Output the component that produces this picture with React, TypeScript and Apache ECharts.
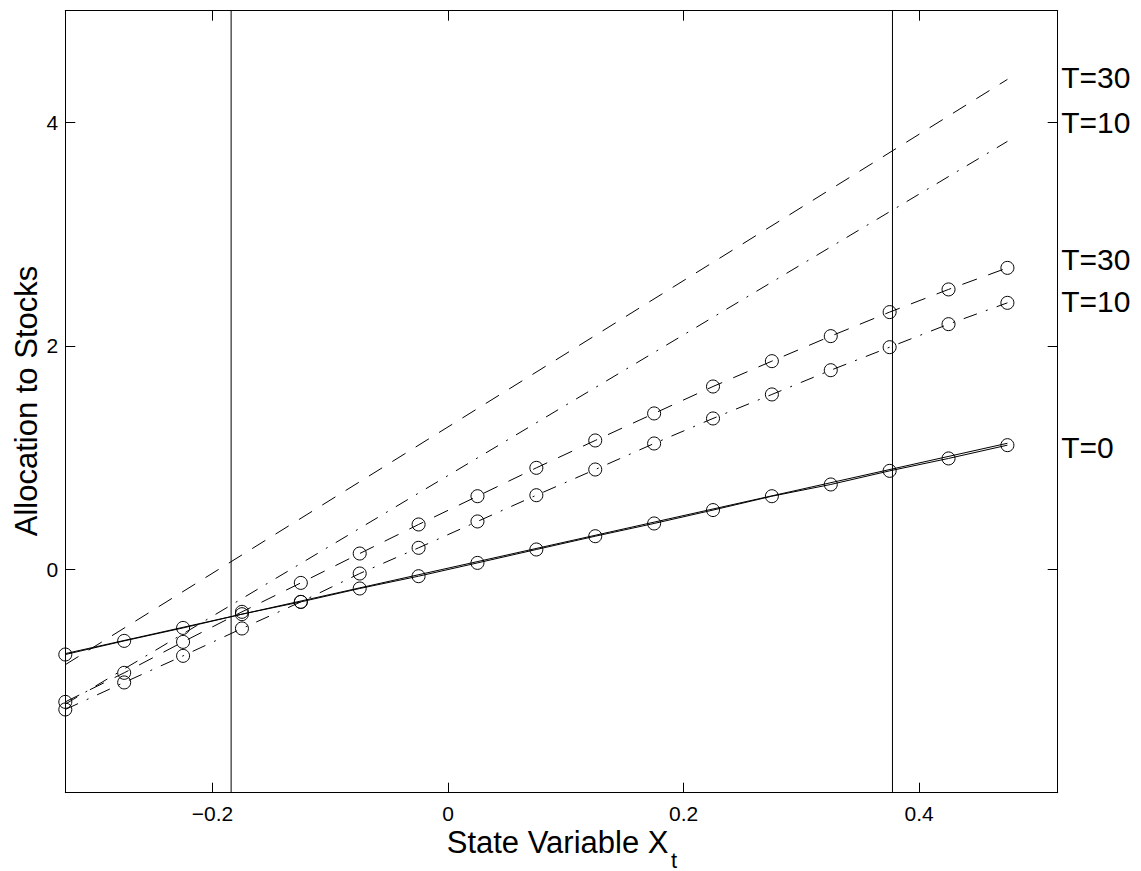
import React, { useEffect, useRef } from "react";
import * as echarts from "echarts";

// ---- data ----
const X_GRID = [
  -0.325, -0.275, -0.225, -0.175, -0.125, -0.075, -0.025, 0.025, 0.075, 0.125,
  0.175, 0.225, 0.275, 0.325, 0.375, 0.425, 0.475,
];
// simulated allocations (circles)
const T30_SIM = [
  -1.187, -0.927, -0.65, -0.381, -0.122, 0.141, 0.401, 0.654, 0.908, 1.153,
  1.395, 1.636, 1.863, 2.087, 2.302, 2.505, 2.698,
];
const T10_SIM = [
  -1.255, -1.013, -0.775, -0.53, -0.292, -0.038, 0.192, 0.428, 0.663, 0.893,
  1.126, 1.35, 1.565, 1.782, 1.988, 2.194, 2.385,
];
const T0_SIM = [
  -0.763, -0.641, -0.525, -0.402, -0.292, -0.172, -0.062, 0.057, 0.177, 0.296,
  0.41, 0.53, 0.654, 0.759, 0.881, 0.992, 1.111,
];
// analytic (straight) lines, endpoints
const LINE_X = [-0.325, 0.475];
const T30_LINE = [-0.854, 4.385];
const T10_LINE = [-1.207, 3.83];
const T0_LINE = [-0.755, 1.128];
// vertical reference lines
const V_LINES = [-0.1842, 0.3774];
// axes
const X_MIN = -0.325;
const X_MAX = 0.5177;
const Y_MIN = -2;
const Y_MAX = 5;
const X_TICKS = [-0.2, 0, 0.2, 0.4];
const Y_TICKS = [0, 2, 4];
// right-hand labels
const LABEL_TEXTS = ["T=30", "T=10", "T=30", "T=10", "T=0"];
const LABEL_YS = [4.401, 3.998, 2.776, 2.394, 1.089];

const FONT = "'Liberation Sans', Arial, Helvetica, sans-serif";

const fmt = (v: number) => {
  const r = Math.round(v * 1000) / 1000;
  return r < 0 ? "\u2212" + String(Math.abs(r)) : String(r);
};

const pairs = (xs: number[], ys: number[]) => xs.map((x, i) => [x, ys[i]]);

const DASHED = [15.5, 12];
const DASHDOT = [14, 9.5, 2, 9.5];

export default function App() {
  const ref = useRef<HTMLDivElement>(null);

  useEffect(() => {
    document.body.style.margin = "0";
    const chart = echarts.init(ref.current!, null, { renderer: "svg" });

    const axisLine = { show: true, onZero: false, lineStyle: { color: "#000", width: 1 } };

    const xAxisBase = (pos: "bottom" | "top", showLabel: boolean) => ({
      type: "value" as const,
      position: pos,
      min: X_MIN,
      max: X_MAX,
      axisLine,
      axisTick: {
        show: true,
        inside: true,
        length: 10,
        customValues: X_TICKS,
        lineStyle: { color: "#000", width: 1 },
      },
      axisLabel: {
        show: showLabel,
        customValues: X_TICKS,
        formatter: fmt,
        color: "#000",
        fontSize: 21,
        fontFamily: FONT,
        margin: 10,
      },
      splitLine: { show: false },
    });

    const yAxisBase = (pos: "left" | "right", showLabel: boolean) => ({
      type: "value" as const,
      position: pos,
      min: Y_MIN,
      max: Y_MAX,
      axisLine,
      axisTick: {
        show: true,
        inside: true,
        length: 10,
        customValues: Y_TICKS,
        lineStyle: { color: "#000", width: 1 },
      },
      axisLabel: {
        show: showLabel,
        customValues: Y_TICKS,
        formatter: fmt,
        color: "#000",
        fontSize: 21,
        fontFamily: FONT,
        margin: 7,
      },
      splitLine: { show: false },
    });

    const plainLine = (name: string, data: number[][], dash: any, width = 1) => ({
      name,
      type: "line" as const,
      data,
      symbol: "none",
      silent: true,
      lineStyle: { color: "#000", width, type: dash, cap: "butt" },
      z: 2,
    });

    const simLine = (name: string, ys: number[], dash: any) => ({
      name,
      type: "line" as const,
      data: pairs(X_GRID, ys),
      symbol: "circle",
      symbolSize: 13,
      silent: true,
      itemStyle: { color: "rgba(0,0,0,0)", borderColor: "#000", borderWidth: 1 },
      lineStyle: { color: "#000", width: 1, type: dash, cap: "butt" },
      z: 3,
    });

    chart.setOption({
      animation: false,
      backgroundColor: "#fff",
      grid: { left: 65.3, right: 83.3, top: 10.7, bottom: 78.3, containLabel: false },
      xAxis: [xAxisBase("bottom", true), xAxisBase("top", false)],
      yAxis: [yAxisBase("left", true), yAxisBase("right", false)],
      series: [
        plainLine("T=30 analytic", pairs(LINE_X, T30_LINE), DASHED),
        plainLine("T=10 analytic", pairs(LINE_X, T10_LINE), DASHDOT),
        plainLine("T=0 analytic", pairs(LINE_X, T0_LINE), "solid"),
        simLine("T=30 simulated", T30_SIM, DASHED),
        simLine("T=10 simulated", T10_SIM, DASHDOT),
        simLine("T=0 simulated", T0_SIM, "solid"),
        ...V_LINES.map((v, i) =>
          plainLine("bound " + (i + 1), [[v, Y_MIN], [v, Y_MAX]], "solid")
        ),
      ],
    });

    const labelGraphics = LABEL_TEXTS.map((t, i) => {
      const p = chart.convertToPixel({ xAxisIndex: 0, yAxisIndex: 0 }, [X_MAX, LABEL_YS[i]]) as number[];
      return {
        type: "text",
        x: p[0] + 3.5,
        y: p[1],
        style: {
          text: t,
          fill: "#000",
          fontSize: 30,
          fontFamily: FONT,
          align: "left",
          verticalAlign: "middle",
        },
      };
    });

    chart.setOption({
      graphic: [
        ...labelGraphics,
        {
          type: "text",
          x: 446.7,
          y: 842,
          style: {
            text: "State Variable X",
            fill: "#000",
            fontSize: 31,
            fontFamily: FONT,
            align: "left",
            verticalAlign: "middle",
          },
        },
        {
          type: "text",
          x: 671,
          y: 860,
          style: {
            text: "t",
            fill: "#000",
            fontSize: 22,
            fontFamily: FONT,
            align: "left",
            verticalAlign: "middle",
          },
        },
        {
          type: "text",
          x: 26,
          y: 401,
          rotation: Math.PI / 2,
          style: {
            text: "Allocation to Stocks",
            fill: "#000",
            fontSize: 31,
            fontFamily: FONT,
            align: "center",
            verticalAlign: "middle",
          },
        },
      ],
    });

    return () => chart.dispose();
  }, []);

  return (
    <div
      ref={ref}
      style={{ position: "absolute", left: 0, top: 0, width: 1141, height: 871 }}
    />
  );
}
